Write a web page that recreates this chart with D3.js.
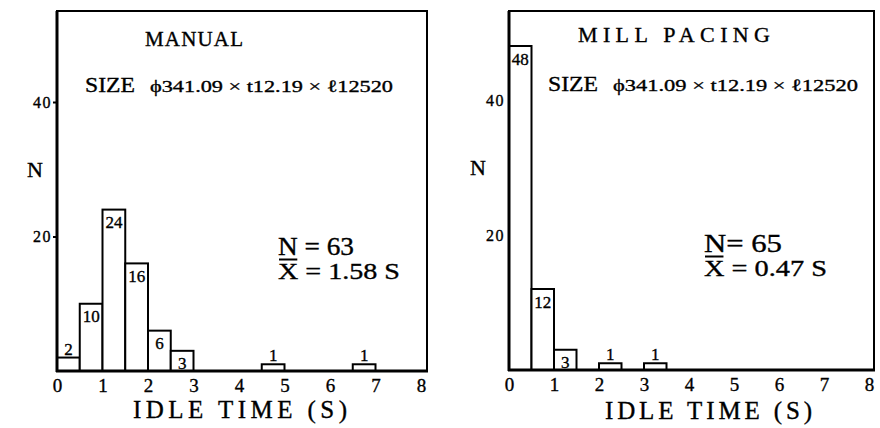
<!DOCTYPE html>
<html><head><meta charset="utf-8">
<script src="https://cdn.jsdelivr.net/npm/d3@7"></script>
<style>
body{margin:0;background:#fff}
svg{display:block}
text{font-family:"Liberation Serif","Times New Roman",serif;fill:#000;stroke:#000;stroke-width:0.35px}
</style>
</head><body>
<svg id="c" width="880" height="428"></svg>
<script>
// ---- data ----
const manualBinStart = [0, 0.5, 1, 1.5, 2, 2.5, 4.5, 6.5];
const manualCount    = [2, 10, 24, 16, 6, 3, 1, 1];
const millBinStart   = [0, 0.5, 1, 2, 3];
const millCount      = [48, 12, 3, 1, 1];
const binWidth = 0.5;
const xTicks = [0, 1, 2, 3, 4, 5, 6, 7, 8];
const yTicks = [20, 40];
const panelTitles = ["MANUAL", "MILL PACING"];
const sizeWord = "SIZE";
const sizeSpec = "\u03D5341.09 \u00D7 t12.19 \u00D7 \u211312520";
const nTexts = ["N = 63", "N= 65"];
const meanTexts = ["X = 1.58 S", "X = 0.47 S"];
const xTitle = "IDLE TIME (S)";
const yTitle = "N";

// ---- layout ----
const layouts = [
  {xr:[57,421], frameRight:427, yr:[371,102], frameTop:11, tick:4, pad:1,
   title:{x:145,y:46,len:98,fs:21},
   size:{x:85,y:92,len:50,x2:150,len2:243},
   yt:{x:27,y:177},
   n:{x:278,y:255,len:76}, mean:{x:278,y:279,len:122},
   xt:{x:133,y:418,len:214}},
  {xr:[509,869], frameRight:874, yr:[370,100], frameTop:11, tick:0, pad:4,
   title:{x:578,y:42,len:192,fs:22},
   size:{x:548,y:91,len:50,x2:613,len2:245},
   yt:{x:470,y:175},
   n:{x:704,y:252,len:78}, mean:{x:704,y:276,len:123},
   xt:{x:605,y:419,len:207}}
];
const series = [
  {starts: manualBinStart, counts: manualCount},
  {starts: millBinStart, counts: millCount}
];

const svg = d3.select("#c");

layouts.forEach((L, i) => {
  const x = d3.scaleLinear().domain([0, 8]).range(L.xr);
  const y = d3.scaleLinear().domain([0, 40]).range(L.yr);
  const g = svg.append("g");
  const fl = x(0), fb = y(0), fr = L.frameRight, ft = L.frameTop;

  // frame
  g.append("rect").attr("x", fl).attr("y", ft).attr("width", fr - fl).attr("height", fb - ft)
    .attr("fill", "none").attr("stroke", "#000").attr("stroke-width", 2);

  // bars
  const data = series[i].starts.map((s, k) => ({s, c: series[i].counts[k]}));
  g.selectAll("rect.bar").data(data).join("rect").attr("class", "bar")
    .attr("x", d => x(d.s)).attr("width", d => x(d.s + binWidth) - x(d.s))
    .attr("y", d => y(d.c)).attr("height", d => y(0) - y(d.c))
    .attr("fill", "#fff").attr("stroke", "#000").attr("stroke-width", 2);

  g.selectAll("text.bl").data(data).join("text").attr("class", "bl")
    .attr("x", d => (x(d.s) + x(d.s + binWidth)) / 2)
    .attr("y", d => (y(0) - y(d.c) > 18) ? y(d.c) + 18.5 : y(d.c) - 3)
    .attr("text-anchor", "middle").attr("font-size", 17)
    .text(d => d.c);

  // thick left & bottom edges
  g.append("line").attr("x1", fl).attr("x2", fl).attr("y1", ft).attr("y2", fb + 1)
    .attr("stroke", "#000").attr("stroke-width", 3);
  g.append("line").attr("x1", fl - 1).attr("x2", fr + 1).attr("y1", fb).attr("y2", fb)
    .attr("stroke", "#000").attr("stroke-width", 3);

  // y axis
  const ya = g.append("g").attr("transform", `translate(${fl},0)`)
    .call(d3.axisLeft(y).tickValues(yTicks).tickSize(L.tick).tickPadding(L.pad).tickSizeOuter(0));
  ya.select(".domain").remove();
  ya.selectAll("line").attr("stroke-width", 2);
  ya.attr("font-family", null);
  ya.selectAll("text").attr("font-size", 16).attr("letter-spacing", 1.5);

  // x axis
  const xa = g.append("g").attr("transform", `translate(0,${fb})`)
    .call(d3.axisBottom(x).tickValues(xTicks).tickSize(0).tickPadding(7.5));
  xa.select(".domain").remove();
  xa.attr("font-family", null);
  xa.selectAll("text").attr("font-size", 19);

  // titles
  g.append("text").attr("x", L.title.x).attr("y", L.title.y).attr("font-size", L.title.fs)
    .attr("textLength", L.title.len).attr("lengthAdjust", "spacing").text(panelTitles[i]);
  g.append("text").attr("x", L.size.x).attr("y", L.size.y).attr("font-size", 22)
    .attr("textLength", L.size.len).attr("lengthAdjust", "spacingAndGlyphs").text(sizeWord);
  g.append("text").attr("x", L.size.x2).attr("y", L.size.y).attr("font-size", 17)
    .attr("textLength", L.size.len2).attr("lengthAdjust", "spacingAndGlyphs").text(sizeSpec);

  // axis titles
  g.append("text").attr("x", L.yt.x).attr("y", L.yt.y).attr("font-size", 22).text(yTitle);
  g.append("text").attr("x", L.xt.x).attr("y", L.xt.y).attr("font-size", 25)
    .attr("textLength", L.xt.len).attr("lengthAdjust", "spacing").text(xTitle);

  // stats
  g.append("text").attr("x", L.n.x).attr("y", L.n.y).attr("font-size", 25)
    .attr("textLength", L.n.len).attr("lengthAdjust", "spacingAndGlyphs").text(nTexts[i]);
  const mt = g.append("text").attr("x", L.mean.x).attr("y", L.mean.y).attr("font-size", 24)
    .attr("textLength", L.mean.len).attr("lengthAdjust", "spacingAndGlyphs").text(meanTexts[i]);
  const ext = mt.node().getExtentOfChar(0);
  g.append("line").attr("x1", ext.x + 1).attr("x2", ext.x + ext.width - 1)
    .attr("y1", L.mean.y - 19.5).attr("y2", L.mean.y - 19.5)
    .attr("stroke", "#000").attr("stroke-width", 2);
});
</script>
</body></html>
